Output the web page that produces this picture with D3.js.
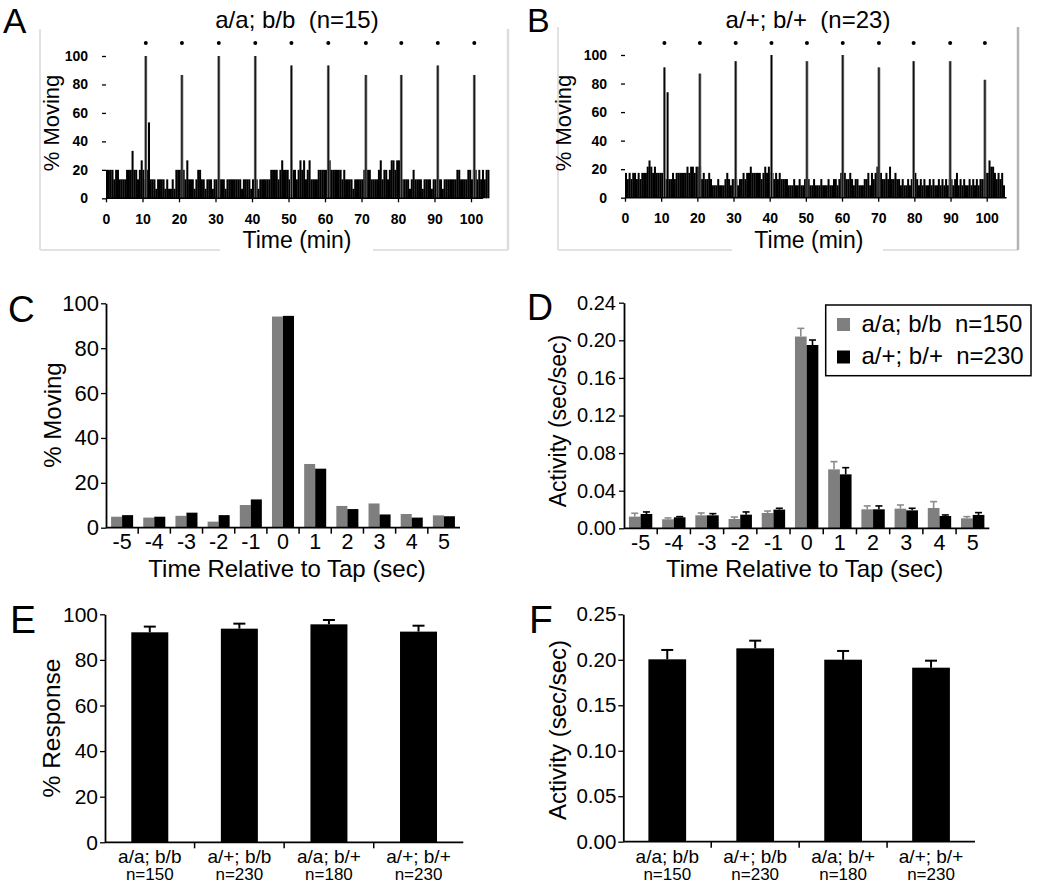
<!DOCTYPE html>
<html><head><meta charset="utf-8">
<script src="https://d3js.org/d3.v7.min.js"></script>
<style>
body{margin:0;background:#fff;}
svg{display:block;font-family:"Liberation Sans",Arial,Helvetica,sans-serif;}
</style></head><body>
<svg id="fig" width="1050" height="891"></svg>
<script>
// ---------------- DATA ----------------
// Panels A/B: number of animals moving per 0.5-min bin (A: n=15, B: n=23)
const binMinutes = 0.5;
const nA = 15;
const countsA = [
 3,3,3,3,2,3,3,2,2,2,  2,3,3,3,5,3,3,2,3,4,  3,2,3,8,2,2,2,1,2,2,  2,2,1,2,1,1,2,1,3,3,
 3,2,3,2,4,2,2,2,1,2,  3,3,2,2,1,2,2,2,1,2,  2,2,2,2,2,1,2,2,2,2,  2,2,2,2,1,2,2,2,2,1,
 2,2,2,1,2,2,2,2,2,2,  3,3,3,3,2,3,4,3,3,3,  2,4,3,3,2,3,4,3,4,2,  3,4,2,2,2,2,3,3,3,3,
 3,3,4,3,3,3,3,3,3,2,  3,2,2,2,2,1,2,2,2,2,  2,3,3,3,3,2,2,2,2,3,  4,2,3,3,2,3,4,4,3,4,
 4,3,2,2,2,2,1,2,3,2,  2,2,2,1,2,2,2,2,1,2,  2,2,2,2,1,2,2,2,2,2,  2,2,3,3,2,2,2,2,3,3,
 2,3,3,2,3,2,3,2,3,3
];
const tapTimesA = [10.9, 20.8, 30.9, 40.9, 50.8, 60.9, 71.2, 80.9, 90.9, 100.9];
const tapPeakA  = [15, 13, 15, 15, 14, 14, 13, 13, 14, 13];

const nB = 23;
const countsB = [
 4,3,4,3,4,4,3,4,3,4,  4,4,5,6,5,4,5,4,4,4,  4,4,3,17,3,3,4,3,4,4,  4,4,4,4,5,4,5,5,4,5,
 5,5,3,4,3,3,4,3,2,2,  2,3,2,2,2,3,4,3,2,3,  3,3,2,3,3,4,3,4,4,5,  4,4,4,4,4,3,4,5,4,5,
 4,4,3,4,3,4,3,3,3,3,  2,2,2,3,2,2,3,2,2,3,  2,3,2,2,3,2,2,2,3,2,  2,2,3,2,2,3,3,2,3,4,
 3,4,3,3,4,3,2,3,3,2,  2,2,3,3,4,2,4,3,4,5,  3,4,3,3,4,3,5,3,3,4,  3,3,2,3,2,2,3,2,3,2,
 4,3,2,3,2,3,2,2,3,2,  3,2,2,3,2,3,2,3,2,3,  3,2,3,4,2,3,2,3,2,2,  3,2,3,2,3,2,3,3,3,4,
 4,6,5,5,4,3,4,3,4,2
];
const tapTimesB = [10.9, 20.7, 30.6, 40.5, 50.3, 60.2, 70.2, 79.8, 89.9, 99.5];
const tapPeakB  = [21, 20, 22, 23, 22, 23, 21, 22, 22, 19];

const timeTicks = [0,10,20,30,40,50,60,70,80,90,100];
const pctTicks  = [0,20,40,60,80,100];

// Panels C/D
const offsets = [-5,-4,-3,-2,-1,0,1,2,3,4,5];
const movingAA = [4.9, 4.5, 5.3, 2.7, 10.1, 94.1, 28.4, 9.7, 10.8, 6.1, 5.5];
const movingAP = [5.6, 4.9, 6.7, 5.6, 12.6, 94.4, 26.3, 8.3, 5.9, 4.5, 5.1];
const activityAA    = [0.0124,0.0096,0.0138,0.0099,0.0163,0.2040,0.0627,0.0202,0.0209,0.0216,0.0106];
const activityAAErr = [0.0036,0.0014,0.0025,0.0021,0.0021,0.0087,0.0082,0.0036,0.0039,0.0068,0.0018];
const activityAP    = [0.0152,0.0117,0.0138,0.0145,0.0199,0.1950,0.0574,0.0202,0.0191,0.0131,0.0142];
const activityAPErr = [0.0022,0.0007,0.0018,0.0029,0.0014,0.0053,0.0071,0.0036,0.0022,0.0011,0.0025];
const activityTicks = [0,0.04,0.08,0.12,0.16,0.20,0.24];
const legendLabels = ["a/a; b/b  n=150", "a/+; b/+  n=230"];

// Panels E/F
const genotypes = ["a/a; b/b","a/+; b/b","a/a; b/+","a/+; b/+"];
const genotypeN = ["n=150","n=230","n=180","n=230"];
const responsePct = [92.1, 93.7, 95.6, 92.4];
const responsePctErr = [2.5, 2.2, 1.9, 2.6];
const responseAct = [0.2005, 0.2126, 0.2001, 0.1913];
const responseActErr = [0.0103, 0.0084, 0.0096, 0.0077];
const responseActTicks = [0,0.05,0.10,0.15,0.20,0.25];

const GRAY = "#7f7f7f";

// ---------------- DRAW ----------------
const svg = d3.select("#fig");

function label(x, y, s, size, opts = {}) {
  const t = svg.append("text").attr("x", x).attr("y", y).text(s)
    .attr("font-size", size).attr("fill", "#000")
    .attr("text-anchor", opts.anchor || "start")
    .style("white-space", "pre");
  if (opts.weight) t.attr("font-weight", opts.weight);
  if (opts.rotate) t.attr("transform", `rotate(-90,${x},${y})`);
  return t;
}
function styleAxis(g, size, weight) {
  g.selectAll("text").attr("font-size", size).attr("font-family", null)
    .attr("font-weight", weight || "normal").attr("fill", "#000");
  g.attr("font-family", null);
  g.selectAll("line").attr("stroke", "#000").attr("stroke-width", 1.3);
}

// ---- Panels A / B : time course ----
function timePanel(c) {
  const x = d3.scaleLinear().domain([0, 100]).range([c.x0, c.x100]);
  const y = d3.scaleLinear().domain([0, 100]).range([c.y0, c.y100]);
  const g = svg.append("g");
  // frame (scanned box)
  const fr = c.frame;
  g.append("line").attr("x1", fr.l).attr("x2", fr.l).attr("y1", fr.t).attr("y2", fr.b).attr("stroke", "#e2e2e2").attr("stroke-width", 2);
  g.append("line").attr("x1", fr.l).attr("x2", fr.gap0).attr("y1", fr.b).attr("y2", fr.b).attr("stroke", "#e2e2e2").attr("stroke-width", 2);
  g.append("line").attr("x1", fr.gap1).attr("x2", fr.r).attr("y1", fr.b).attr("y2", fr.b).attr("stroke", "#e2e2e2").attr("stroke-width", 2);
  g.append("line").attr("x1", fr.r).attr("x2", fr.r).attr("y1", fr.t).attr("y2", fr.b).attr("stroke", fr.rc).attr("stroke-width", 2.5);

  const bw = x(binMinutes) - x(0);
  g.selectAll("rect.bin").data(c.counts).join("rect")
    .attr("x", (d, i) => x(i * binMinutes)).attr("width", bw + 0.2)
    .attr("y", d => y(d / c.n * 100)).attr("height", d => y(0) - y(d / c.n * 100))
    .attr("fill", "#000");
  const taps = c.taps.map((t, i) => ({ t, v: c.peaks[i] / c.n * 100 }));
  g.selectAll("rect.spike").data(taps).join("rect")
    .attr("x", d => x(d.t) - 1.4).attr("width", 2.8)
    .attr("y", d => y(d.v)).attr("height", d => y(0) - y(d.v)).attr("fill", "#707070");
  g.selectAll("line.spike").data(taps).join("line")
    .attr("x1", d => x(d.t)).attr("x2", d => x(d.t))
    .attr("y1", d => y(d.v)).attr("y2", y(0)).attr("stroke", "#000").attr("stroke-width", 1);
  g.selectAll("circle.tap").data(c.taps).join("circle")
    .attr("cx", d => x(d)).attr("cy", c.dotY).attr("r", 2).attr("fill", "#000");

  const ax = g.append("g").attr("transform", `translate(0,${c.y0})`)
    .call(d3.axisBottom(x).tickValues(timeTicks).tickSize(4).tickPadding(11.5));
  ax.select(".domain").remove();
  styleAxis(ax, 14, "bold");
  g.append("line").attr("x1", x(0)).attr("x2", x(c.axisEnd)).attr("y1", c.y0).attr("y2", c.y0)
    .attr("stroke", "#000").attr("stroke-width", 1.5);
  const ay = g.append("g").attr("transform", `translate(${c.x0},0)`)
    .call(d3.axisLeft(y).tickValues(pctTicks).tickSize(4).tickPadding(14));
  ay.select(".domain").remove();
  styleAxis(ay, 14, "bold");

  label(c.titleX, 28, c.title, 24, { anchor: "middle" });
  label((c.x0 + c.x100) / 2 + c.xtOff, 247.5, "Time (min)", 23, { anchor: "middle" });
  label(c.ylabX, 123, "% Moving", 22, { anchor: "middle", rotate: true });
}

timePanel({ counts: countsA, n: nA, taps: tapTimesA, peaks: tapPeakA,
  x0: 106, x100: 471, y0: 198.3, y100: 56, axisEnd: 103.3, dotY: 43,
  frame: { l: 40, t: 29, b: 250, r: 508, gap0: 220, gap1: 373, rc: "#dcdcdc" },
  title: "a/a; b/b  (n=15)", titleX: 297, xtOff: 8.5, ylabX: 59 });
timePanel({ counts: countsB, n: nB, taps: tapTimesB, peaks: tapPeakB,
  x0: 625, x100: 986.7, y0: 197.7, y100: 55, axisEnd: 105.5, dotY: 43,
  frame: { l: 558, t: 27, b: 250, r: 1018, gap0: 732, gap1: 883, rc: "#b4b4b4" },
  title: "a/+; b/+  (n=23)", titleX: 808, xtOff: 3, ylabX: 571 });

// ---- Panels C / D : grouped bars ----
function groupPanel(c) {
  const x0 = d3.scaleBand().domain(offsets).range([c.xl, c.xr]).padding(0);
  const x1 = d3.scaleBand().domain(["aa", "ap"]).range([0, x0.bandwidth()]).paddingInner(0).paddingOuter(c.po);
  const y = d3.scaleLinear().domain(c.domain).range([c.yb, c.yt]);
  const g = svg.append("g");
  const rows = offsets.map((o, i) => ({ o, aa: c.aa[i], ap: c.ap[i], aaE: c.aaE ? c.aaE[i] : 0, apE: c.apE ? c.apE[i] : 0 }));
  // error bars (upper only)
  if (c.aaE) {
    [["aa", "aaE", GRAY, "#8c8c8c"], ["ap", "apE", "#000", "#000"]].forEach(([k, ke, col, ecol]) => {
      g.selectAll("line.ev" + k).data(rows).join("line")
        .attr("x1", d => x0(d.o) + x1(k) + x1.bandwidth() / 2).attr("x2", d => x0(d.o) + x1(k) + x1.bandwidth() / 2)
        .attr("y1", d => y(d[k])).attr("y2", d => y(d[k] + d[ke])).attr("stroke", ecol).attr("stroke-width", 1.6);
      g.selectAll("line.ec" + k).data(rows).join("line")
        .attr("x1", d => x0(d.o) + x1(k) + x1.bandwidth() / 2 - 3.5).attr("x2", d => x0(d.o) + x1(k) + x1.bandwidth() / 2 + 3.5)
        .attr("y1", d => y(d[k] + d[ke])).attr("y2", d => y(d[k] + d[ke])).attr("stroke", ecol).attr("stroke-width", 1.6);
    });
  }
  [["aa", GRAY], ["ap", "#000"]].forEach(([k, col]) => {
    g.selectAll("rect.b" + k).data(rows).join("rect")
      .attr("x", d => x0(d.o) + x1(k)).attr("width", x1.bandwidth())
      .attr("y", d => y(d[k])).attr("height", d => y(0) - y(d[k])).attr("fill", col);
  });
  // axes
  const ay = g.append("g").attr("transform", `translate(${c.xl},0)`)
    .call(d3.axisLeft(y).tickValues(c.ticks).tickFormat(c.fmt).tickSize(5).tickPadding(c.yPad).tickSizeOuter(0));
  ay.select(".domain").attr("stroke", "#000").attr("stroke-width", 1.8);
  styleAxis(ay, c.yFont);
  const ax = g.append("g").attr("transform", `translate(0,${c.yb})`)
    .call(d3.axisBottom(x0).tickSize(0).tickPadding(6));
  ax.select(".domain").remove();
  styleAxis(ax, 21.5);
  g.append("line").attr("x1", c.xl).attr("x2", c.xr).attr("y1", c.yb).attr("y2", c.yb).attr("stroke", "#000").attr("stroke-width", 1.8);
  g.selectAll("line.bt").data(offsets.slice(1)).join("line")
    .attr("x1", d => x0(d)).attr("x2", d => x0(d)).attr("y1", c.yb).attr("y2", c.yb + 6)
    .attr("stroke", "#000").attr("stroke-width", 1.5);
  label((c.xl + c.xr) / 2 + c.xtOff, 577, "Time Relative to Tap (sec)", 24, { anchor: "middle" });
  label(c.ylx, c.yly, c.ytitle, c.ytSize, { anchor: "middle", rotate: true });
  return g;
}

groupPanel({ aa: movingAA, ap: movingAP, xl: 106, xr: 460, yb: 527.7, yt: 303.3, domain: [0, 100],
  ticks: pctTicks, fmt: d3.format("d"), po: 0.46, yPad: 2, yFont: 22,
  xtOff: 4, ylx: 61, yly: 415, ytitle: "% Moving", ytSize: 24 });
groupPanel({ aa: activityAA, ap: activityAP, aaE: activityAAErr, apE: activityAPErr,
  xl: 624, xr: 989.3, yb: 528.3, yt: 302.7, domain: [0, 0.24],
  ticks: activityTicks, fmt: d3.format(".2f"), po: 0.42, yPad: 3, yFont: 20,
  xtOff: -2, ylx: 566, yly: 421, ytitle: "Activity (sec/sec)", ytSize: 23 });

// legend (panel D)
svg.append("rect").attr("x", 825.7).attr("y", 305).attr("width", 205.3).attr("height", 70.7)
  .attr("fill", "#fff").attr("stroke", "#000").attr("stroke-width", 1.5);
[[GRAY, 318, 331.5], ["#000", 350.5, 364]].forEach(([col, sy, ty], i) => {
  svg.append("rect").attr("x", 837).attr("y", sy).attr("width", 13).attr("height", 13).attr("fill", col);
  label(861.5, ty, legendLabels[i], 24);
});

// ---- Panels E / F : single bars ----
function singlePanel(c) {
  const x = d3.scaleBand().domain(genotypes).range([c.xl, c.xr]).paddingInner(c.p).paddingOuter(c.p / 2);
  const xc = d3.scaleBand().domain(genotypes).range([c.xl, c.xr]).padding(0);
  const y = d3.scaleLinear().domain(c.domain).range([c.yb, c.yt]);
  const g = svg.append("g");
  const rows = genotypes.map((k, i) => ({ k, v: c.v[i], e: c.e[i] }));
  g.selectAll("line.ev").data(rows).join("line")
    .attr("x1", d => x(d.k) + x.bandwidth() / 2).attr("x2", d => x(d.k) + x.bandwidth() / 2)
    .attr("y1", d => y(d.v)).attr("y2", d => y(d.v + d.e)).attr("stroke", "#000").attr("stroke-width", 2);
  g.selectAll("line.ec").data(rows).join("line")
    .attr("x1", d => x(d.k) + x.bandwidth() / 2 - 6).attr("x2", d => x(d.k) + x.bandwidth() / 2 + 6)
    .attr("y1", d => y(d.v + d.e)).attr("y2", d => y(d.v + d.e)).attr("stroke", "#000").attr("stroke-width", 2);
  g.selectAll("rect.b").data(rows).join("rect")
    .attr("x", d => x(d.k)).attr("width", x.bandwidth())
    .attr("y", d => y(d.v)).attr("height", d => y(0) - y(d.v)).attr("fill", "#000");
  const ay = g.append("g").attr("transform", `translate(${c.xl},0)`)
    .call(d3.axisLeft(y).tickValues(c.ticks).tickFormat(c.fmt).tickSize(5).tickPadding(c.yPad).tickSizeOuter(0));
  ay.select(".domain").attr("stroke", "#000").attr("stroke-width", 1.8);
  styleAxis(ay, c.yFont);
  g.append("line").attr("x1", c.xl).attr("x2", c.xr).attr("y1", c.yb).attr("y2", c.yb).attr("stroke", "#000").attr("stroke-width", 1.8);
  g.selectAll("line.bt").data(genotypes.slice(1)).join("line")
    .attr("x1", d => xc(d)).attr("x2", d => xc(d)).attr("y1", c.yb).attr("y2", c.yb + 6)
    .attr("stroke", "#000").attr("stroke-width", 1.5);
  genotypes.forEach((gname, i) => {
    const cx = x(gname) + x.bandwidth() / 2;
    label(cx, c.yb + 21, gname, 19, { anchor: "middle" });
    label(cx, c.yb + 38, genotypeN[i], 17, { anchor: "middle" });
  });
  label(c.ylx, c.yly, c.ytitle, c.ytSize, { anchor: "middle", rotate: true });
}

singlePanel({ v: responsePct, e: responsePctErr, xl: 105, xr: 463.3, yb: 842.3, yt: 614.3, domain: [0, 100],
  ticks: pctTicks, fmt: d3.format("d"), p: 0.587, yPad: 2, yFont: 21,
  ylx: 60, yly: 728, ytitle: "% Response", ytSize: 24.5 });
singlePanel({ v: responseAct, e: responseActErr, xl: 623.3, xr: 975, yb: 841.7, yt: 614.3, domain: [0, 0.25],
  ticks: responseActTicks, fmt: d3.format(".2f"), p: 0.571, yPad: 2, yFont: 20.5,
  ylx: 566, yly: 730, ytitle: "Activity (sec/sec)", ytSize: 24 });

// panel letters
label(3, 33, "A", 35);
label(527, 32, "B", 34);
label(8, 322, "C", 37);
label(527, 320, "D", 36);
label(10, 633, "E", 39);
label(529, 633, "F", 39);
</script>
</body></html>
